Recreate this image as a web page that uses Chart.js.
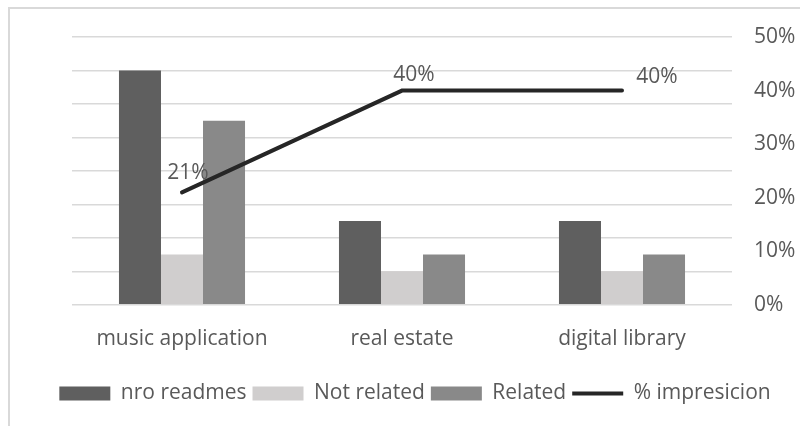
<!DOCTYPE html>
<html>
<head>
<meta charset="utf-8">
<script src="https://cdn.jsdelivr.net/npm/chart.js@4.4.1/dist/chart.umd.min.js"></script>
<style>
  html, body { margin: 0; padding: 0; background: #fff; overflow: hidden; }
  .frame { position: absolute; left: 8px; top: 7px; width: 900px; height: 500px; border: 2px solid #d9d9d9; }
  .wrap { position: absolute; left: 0; top: 0; width: 800px; height: 426px; }
</style>
</head>
<body>
<div class="frame"></div>
<div class="wrap"><canvas id="chart" width="800" height="426"></canvas></div>
<script>
// readme counts per domain and the precision line (percent)
const categories = ["music application", "real estate", "digital library"];
const nroReadmes = [14, 5, 5];
const notRelated = [3, 2, 2];
const related = [11, 3, 3];
const impresicion = [21, 40, 40];
const percentTicks = [0, 10, 20, 30, 40, 50];

const TEXT = "#595959";
const GRID = "#d9d9d9";
const FONT = "'Open Sans', 'Liberation Sans', sans-serif";
const FSIZE = 21;

// nudges for the % labels next to the line points
const labelOffsets = [[6, -19], [12, -16], [35, -14]];

const pointLabels = {
    id: "pointLabels",
    afterDatasetsDraw(chart) {
        const meta = chart.getDatasetMeta(3);
        const ctx = chart.ctx;
        ctx.save();
        ctx.font = FSIZE + "px " + FONT;
        ctx.fillStyle = TEXT;
        ctx.textAlign = "center";
        ctx.textBaseline = "middle";
        meta.data.forEach((pt, i) => {
            const [dx, dy] = labelOffsets[i];
            ctx.fillText(impresicion[i] + "%", pt.x + dx, pt.y + dy);
        });
        ctx.restore();
    }
};

new Chart(document.getElementById("chart"), {
    type: "bar",
    data: {
        labels: categories,
        datasets: [
            { label: "nro readmes", data: nroReadmes, backgroundColor: "#5f5f5f", yAxisID: "y", pointStyle: "rect" },
            { label: "Not related", data: notRelated, backgroundColor: "#d0cece", yAxisID: "y", pointStyle: "rect" },
            { label: "Related", data: related, backgroundColor: "#898989", yAxisID: "y", pointStyle: "rect" },
            {
                type: "line",
                label: "% impresicion",
                data: impresicion,
                yAxisID: "y1",
                borderColor: "#262626",
                backgroundColor: "#262626",
                borderWidth: 4,
                borderCapStyle: "round",
                pointRadius: 0,
                pointStyle: "line",
                tension: 0,
                order: -1
            }
        ]
    },
    options: {
        responsive: false,
        animation: false,
        layout: { padding: { top: 37, left: 30, right: 0, bottom: 12 } },
        datasets: {
            bar: { categoryPercentage: 0.573, barPercentage: 1, borderWidth: 0 }
        },
        plugins: {
            tooltip: { enabled: false },
            legend: {
                position: "bottom",
                labels: {
                    usePointStyle: true,
                    pointStyleWidth: 51,
                    boxHeight: 14,
                    padding: 6,
                    color: TEXT,
                    font: { family: FONT, size: FSIZE },
                    sort: (a, b) => a.datasetIndex - b.datasetIndex
                }
            }
        },
        scales: {
            x: {
                grid: { display: false },
                border: { display: false },
                ticks: { color: TEXT, font: { family: FONT, size: FSIZE }, padding: 14 },
                afterFit: (s) => { s.height += 11; }
            },
            y: {
                position: "left",
                min: 0,
                max: 16,
                ticks: { display: false, stepSize: 2 },
                grid: { color: GRID, lineWidth: 1.5, drawTicks: false },
                border: { display: false },
                afterFit: (s) => { s.width = 42; }
            },
            y1: {
                position: "right",
                min: 0,
                max: 50,
                afterBuildTicks: (s) => { s.ticks = percentTicks.map(v => ({ value: v })); },
                ticks: { color: TEXT, font: { family: FONT, size: FSIZE }, padding: 22, callback: v => v + "%" },
                grid: { display: false, drawTicks: false },
                border: { display: false },
                afterFit: (s) => { s.width = 68; }
            }
        }
    },
    plugins: [pointLabels]
});
</script>
</body>
</html>
